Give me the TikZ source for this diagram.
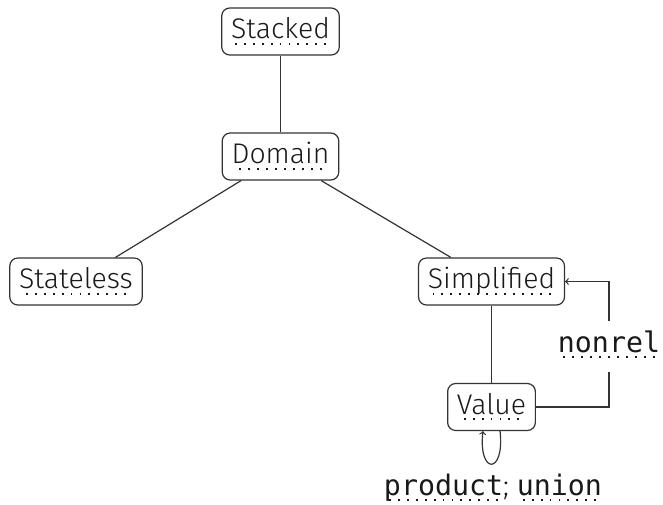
\documentclass[tikz,border=0pt]{standalone}
\usepackage{fontspec}
\setmainfont{Fira Sans Light}
\newfontfamily\codefont{DejaVu Sans Mono}
\newcommand\dotu[1]{\setbox0=\hbox{#1}\leavevmode\rlap{\raisebox{-4.4pt}[0pt][0pt]{\hbox to \wd0{\cleaders\hbox to 6.7pt{\hss\vrule width 1.4pt height 1.4pt\hss}\hfill}}}\box0}
\newcommand\mono{\fontsize{21.2}{24}\selectfont\codefont}
\begin{document}
\begin{tikzpicture}[x=0.75pt,y=-0.75pt,
  font=\fontsize{21.3}{24}\selectfont,
  box/.style={draw=black!80, line width=0.9pt, rounded corners=6pt, inner xsep=7pt, inner ysep=0pt, text height=23pt, text depth=12.25pt, text=black!90},
  conn/.style={draw=black!80, line width=0.9pt},
  lbl/.style={fill=white, inner xsep=2pt, inner ysep=6pt, text height=17pt, text depth=9pt, anchor=base, text=black!90}]
\useasboundingbox (0,0) rectangle (663,504);
\node[box] (stk) at (280.5,31.5) {\dotu{Stacked}};
\node[box] (dom) at (280.5,156.5) {\dotu{Domain}};
\node[box] (stl) at (76,281.5) {\dotu{Stateless}};
\node[box] (smp) at (491.5,281.5) {\dotu{Simplified}};
\node[box] (val) at (491.5,407) {\dotu{Value}};
\draw[conn] (stk) -- (dom);
\draw[conn] (dom) -- (stl);
\draw[conn] (dom) -- (smp);
\draw[conn] (smp) -- (val);
\coordinate (c1) at (609,407);
\draw[conn,->] (val) -- (c1) |- node[lbl,pos=0.219] (nr) {\mono\dotu{nonrel}} (smp);
\draw[conn,->] ([xshift=6.4pt]val.south) .. controls +(5,44) and +(-5,44) .. ([xshift=-6.4pt]val.south);
\node[anchor=base, inner sep=0pt, text=black!90] (pu) at (493,495) {{\mono\dotu{product}}; {\mono\dotu{union}}};
\end{tikzpicture}
\end{document}
